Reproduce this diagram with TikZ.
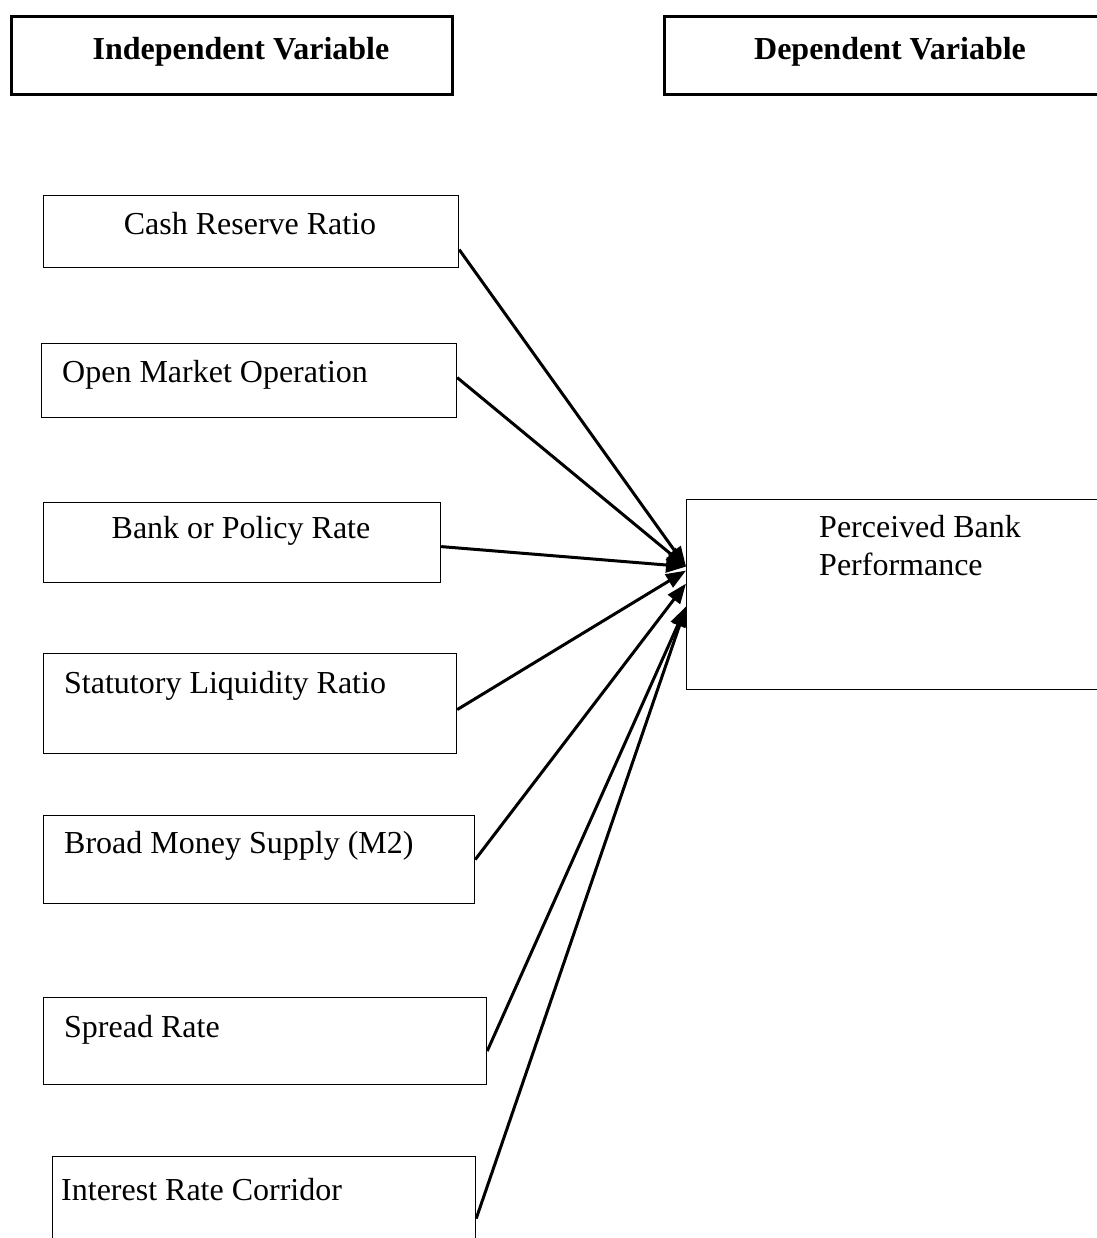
\documentclass[tikz,border=0pt]{standalone}
\usepackage{fontspec}
\setmainfont{Liberation Serif}
\usetikzlibrary{arrows.meta}
\begin{document}
\begin{tikzpicture}[x=1pt,y=-1pt,
  headbox/.style={draw,line width=3pt,inner sep=0pt,anchor=north west,minimum height=78pt},
  varbox/.style={draw,line width=1.2pt,inner sep=0pt,anchor=north west},
  vartext/.style={inner sep=0pt,font=\fontsize{32}{36}\selectfont},
  headtext/.style={inner sep=0pt,anchor=base,font=\fontsize{32}{36}\selectfont\bfseries},
  link/.style={line width=3pt,-{Triangle[length=20pt,width=15pt]}}]
\useasboundingbox (0,0) rectangle (1096,1238);

% headings
\node [headbox,minimum width=441pt] (indep) at (10,15) {};
\node [headbox,minimum width=460pt] (dep) at (663,15) {};
\node [headtext] (indep-t) at (241,60) {Independent Variable};
\node [headtext] (dep-t) at (890,60) {Dependent Variable};

% independent variables
\node [varbox,minimum width=415pt,minimum height=72pt] (crr) at (43,195) {};
\node [varbox,minimum width=415pt,minimum height=74pt] (omo) at (41,343) {};
\node [varbox,minimum width=397pt,minimum height=80pt] (bank) at (43,502) {};
\node [varbox,minimum width=413pt,minimum height=100pt] (slr) at (43,653) {};
\node [varbox,minimum width=431pt,minimum height=88pt] (bms) at (43,815) {};
\node [varbox,minimum width=443pt,minimum height=87pt] (spr) at (43,997) {};
\node [varbox,minimum width=423pt,minimum height=120pt] (icr) at (52,1156) {};

\node [vartext,anchor=base] (crr-t) at (250,235) {Cash Reserve Ratio};
\node [vartext,anchor=base west] (omo-t) at (62,382) {Open Market Operation};
\node [vartext,anchor=base] (bank-t) at (241,538) {Bank or Policy Rate};
\node [vartext,anchor=base west] (slr-t) at (64,693) {Statutory Liquidity Ratio};
\node [vartext,anchor=base west] (bms-t) at (64,853) {Broad Money Supply (M2)};
\node [vartext,anchor=base west] (spr-t) at (64,1037) {Spread Rate};
\node [vartext,anchor=base west] (icr-t) at (61,1200) {Interest Rate Corridor};

% dependent variable
\node [varbox,minimum width=430pt,minimum height=190pt] (pbp) at (686,499) {};
\node [vartext,anchor=north west,align=left] (pbp-t) at (819,515) {Perceived Bank\\[2pt]Performance};

% links
\draw [link] ([yshift=-18pt]crr.east) -- ([yshift=28pt]pbp.west);
\draw [link] ([yshift=3pt]omo.east) -- ([yshift=28pt]pbp.west);
\draw [link] ([yshift=-4pt]bank.east) -- ([yshift=28pt]pbp.west);
\draw [link] ([yshift=-6pt]slr.east) -- ([yshift=24pt]pbp.west);
\draw [link] (bms.east) -- ([yshift=11pt]pbp.west);
\draw [link] ([yshift=-10pt]spr.east) -- ([yshift=-12pt]pbp.west);
\draw [link] ([yshift=-2pt]icr.east) -- ([yshift=-12pt]pbp.west);
\end{tikzpicture}
\end{document}
